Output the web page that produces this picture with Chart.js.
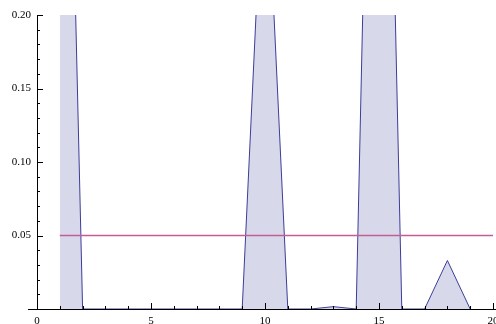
<!DOCTYPE html>
<html>
<head>
<meta charset="utf-8">
<script src="https://cdn.jsdelivr.net/npm/chart.js@4/dist/chart.umd.min.js"></script>
<style>
  html, body { margin: 0; padding: 0; background: #fff; overflow: hidden; }
  #wrap { width: 496px; height: 324px; position: relative; }
</style>
</head>
<body>
<div id="wrap"><canvas id="c"></canvas></div>
<script>
// ---- data ----
const xValues = [1, 2, 3, 4, 5, 6, 7, 8, 9, 10, 11, 12, 13, 14, 15, 16, 17, 18, 19];
const pValues = [0.66, 0, 0, 0, 0, 0, 0, 0, 0, 0.33, 0, 0, 0.0016, 0, 0.70, 0, 0, 0.033, 0];
const thresholdX = [1, 20];
const thresholdY = [0.05, 0.05];
const xTickValues = [0, 5, 10, 15, 20];
const xTickLabels = ['0', '5', '10', '15', '20'];
const yTickValues = [0.05, 0.10, 0.15, 0.20];
const yTickLabels = ['0.05', '0.10', '0.15', '0.20'];

const seriesPoints = xValues.map((x, i) => ({ x: x, y: pValues[i] }));
const thresholdPoints = thresholdX.map((x, i) => ({ x: x, y: thresholdY[i] }));

const FONT = '11px "Liberation Serif", "DejaVu Serif", serif';

const axesPlugin = {
  id: 'mmaAxes',
  afterDraw(chart) {
    const ctx = chart.ctx;
    const xs = chart.scales.x, ys = chart.scales.y;
    const area = chart.chartArea;
    const x0 = xs.getPixelForValue(0);
    const y0 = ys.getPixelForValue(0);
    const ax = Math.round(x0), ay = Math.round(y0);
    ctx.save();
    ctx.strokeStyle = '#000';
    ctx.lineWidth = 1;
    // x axis
    ctx.beginPath();
    ctx.moveTo(area.left, ay + 0.5);
    ctx.lineTo(area.right, ay + 0.5);
    ctx.stroke();
    // y axis
    ctx.beginPath();
    ctx.moveTo(ax + 0.5, ay + 0.5);
    ctx.lineTo(ax + 0.5, ys.getPixelForValue(0.2));
    ctx.stroke();
    // x ticks, inward
    for (let v = 0; v <= 20; v++) {
      const px = Math.round(xs.getPixelForValue(v)) + 0.5;
      const len = (v % 5 === 0) ? 6 : 3;
      ctx.beginPath();
      ctx.moveTo(px, ay);
      ctx.lineTo(px, ay - len);
      ctx.stroke();
    }
    // y ticks, inward
    for (let k = 1; k <= 20; k++) {
      const py = Math.round(ys.getPixelForValue(k * 0.01)) + 0.5;
      const len = (k % 5 === 0) ? 6 : 3;
      ctx.beginPath();
      ctx.moveTo(ax, py);
      ctx.lineTo(ax + len, py);
      ctx.stroke();
    }
    // labels
    ctx.fillStyle = '#000';
    ctx.font = FONT;
    ctx.textAlign = 'center';
    ctx.textBaseline = 'alphabetic';
    xTickValues.forEach((v, i) => {
      ctx.fillText(xTickLabels[i], xs.getPixelForValue(v), y0 + 15);
    });
    ctx.textAlign = 'right';
    ctx.textBaseline = 'middle';
    yTickValues.forEach((v, i) => {
      ctx.fillText(yTickLabels[i], x0 - 6, ys.getPixelForValue(v));
    });
    ctx.restore();
  }
};

new Chart(document.getElementById('c'), {
  type: 'line',
  data: {
    datasets: [
      {
        data: seriesPoints,
        borderColor: '#3d3d99',
        backgroundColor: 'rgba(61,61,153,0.2)',
        borderWidth: 1,
        fill: 'origin',
        pointRadius: 0,
        tension: 0,
        order: 2
      },
      {
        data: thresholdPoints,
        borderColor: 'rgb(196,92,150)',
        borderWidth: 1.6,
        fill: false,
        pointRadius: 0,
        tension: 0,
        order: 1
      }
    ]
  },
  options: {
    responsive: true,
    maintainAspectRatio: false,
    animation: false,
    layout: { padding: { left: 28, top: 15, right: 0, bottom: 15 } },
    plugins: { legend: { display: false }, tooltip: { enabled: false } },
    scales: {
      x: { type: 'linear', min: -0.395, max: 20.132, display: false },
      y: { type: 'linear', min: 0, max: 0.2, display: false }
    }
  },
  plugins: [axesPlugin]
});
</script>
</body>
</html>
